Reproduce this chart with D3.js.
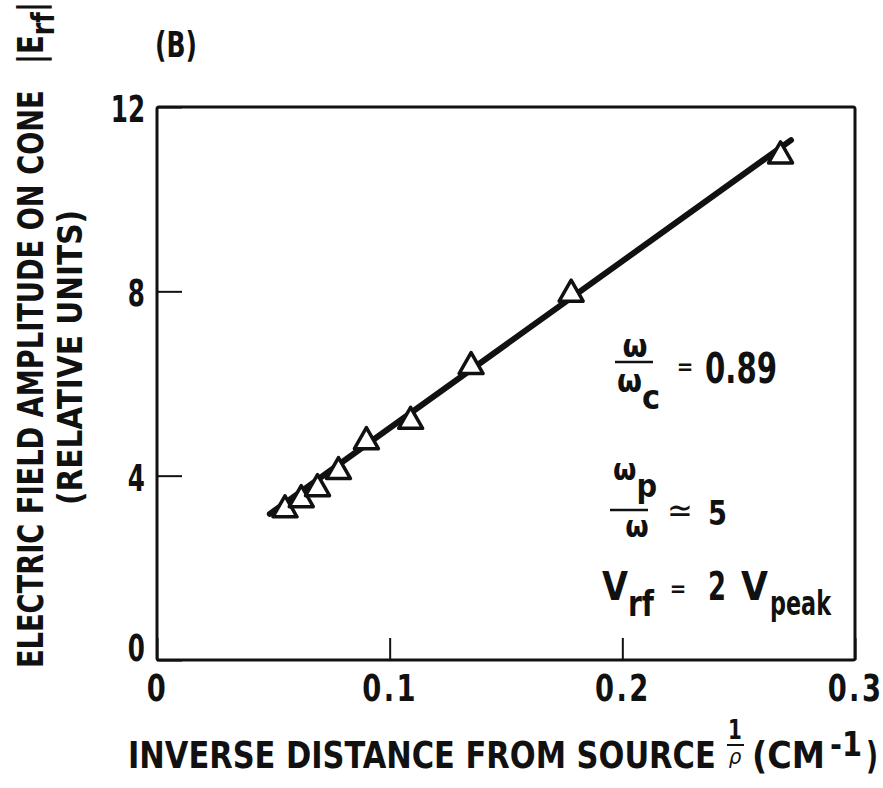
<!DOCTYPE html>
<html>
<head>
<meta charset="utf-8">
<script src="https://cdn.jsdelivr.net/npm/d3@7"></script>
<style>
  html, body { margin: 0; padding: 0; background: #fff; }
  svg { display: block; }
  text { fill: #111; }
</style>
</head>
<body>
<svg id="chart" width="883" height="788"></svg>
<script>
// ---------- data ----------
const xValues = [0.055, 0.062, 0.069, 0.078, 0.090, 0.109, 0.135, 0.178, 0.268];
const yValues = [3.28, 3.50, 3.74, 4.11, 4.76, 5.20, 6.39, 7.96, 10.96];
const fitX = [0.0485, 0.2725];
const fitY = [3.17, 11.28];
const xTicks = [0, 0.1, 0.2, 0.3];
const xTickLabels = ["0", "0.1", "0.2", "0.3"];
const yTicks = [0, 4, 8, 12];
const yTickLabels = ["0", "4", "8", "12"];

// ---------- setup ----------
const FONT = "'Liberation Sans Narrow', 'DejaVu Sans Condensed', 'Arial Narrow', sans-serif";
const svg = d3.select("#chart");
const plot = { left: 157, right: 855, top: 107, bottom: 660 };

const x = d3.scaleLinear().domain([0, 0.3]).range([plot.left, plot.right]);
const y = d3.scaleLinear().domain([0, 12]).range([plot.bottom, plot.top]);

const ink = "#111";

// helper: text squeezed horizontally to a target width (condensed look)
function fitText(parent, opt, build) {
  const g = parent.append("g");
  const t = g.append("text")
    .attr("x", 0).attr("y", 0)
    .attr("text-anchor", opt.anchor || "start")
    .attr("font-family", FONT)
    .attr("font-size", opt.size)
    .attr("font-weight", opt.weight || "bold");
  if (opt.style) t.attr("font-style", opt.style);
  if (typeof build === "string") t.text(build); else build(t);
  let sx = opt.scale || 1;
  if (opt.width) {
    const len = t.node().getComputedTextLength();
    if (len > 0) sx = opt.width / len;
  }
  g.attr("transform", `translate(${opt.x},${opt.y}) rotate(${opt.rotate || 0}) scale(${sx},1)`);
  return t;
}

// frame
svg.append("rect")
  .attr("x", plot.left).attr("y", plot.top)
  .attr("width", plot.right - plot.left).attr("height", plot.bottom - plot.top)
  .attr("fill", "none").attr("stroke", ink).attr("stroke-width", 3).attr("rx", 2);

// x axis
const xAxis = svg.append("g")
  .attr("transform", `translate(0,${plot.bottom})`)
  .call(d3.axisBottom(x).tickValues(xTicks)
    .tickFormat((d, i) => xTickLabels[i])
    .tickSize(-22).tickPadding(14));
xAxis.select(".domain").remove();
xAxis.selectAll(".tick line").attr("stroke", ink).attr("stroke-width", 2);
xAxis.selectAll(".tick text")
  .attr("font-family", FONT).attr("font-size", 38).attr("font-weight", "bold")
  .attr("letter-spacing", 3).attr("fill", ink)
  .attr("transform", "scale(0.8,1)");

// y axis
const ySX = 0.72;
const yAxis = svg.append("g")
  .attr("transform", `translate(${plot.left},0)`)
  .call(d3.axisLeft(y).tickValues(yTicks)
    .tickFormat((d, i) => yTickLabels[i])
    .tickSize(-25).tickPadding(12));
yAxis.select(".domain").remove();
yAxis.selectAll(".tick line").attr("stroke", ink).attr("stroke-width", 2);
yAxis.selectAll(".tick text")
  .attr("font-family", FONT).attr("font-size", 38).attr("font-weight", "bold")
  .attr("fill", ink)
  .attr("x", -12 / ySX)
  .attr("transform", `scale(${ySX},1)`)
  .attr("dy", d => d === 0 ? "0.0em" : "0.38em");

// fit line
const line = d3.line().x(d => x(d[0])).y(d => y(d[1]));
svg.append("path")
  .datum(fitX.map((v, i) => [v, fitY[i]]))
  .attr("d", line)
  .attr("fill", "none").attr("stroke", ink)
  .attr("stroke-width", 6).attr("stroke-linecap", "round");

// triangle markers
const tri = "M0,-13 L12,8 L-12,8 Z";
svg.append("g").selectAll("path")
  .data(xValues.map((v, i) => [v, yValues[i]]))
  .join("path")
  .attr("transform", d => `translate(${x(d[0])},${y(d[1])})`)
  .attr("d", tri)
  .attr("fill", "#fff").attr("stroke", ink)
  .attr("stroke-width", 3.5).attr("stroke-linejoin", "round");

// panel label
fitText(svg, { x: 155, y: 57, size: 36, width: 42 }, "(B)");

// y title (rotated)
fitText(svg, { x: 43, y: 668, rotate: -90, size: 35, width: 578 },
  "ELECTRIC FIELD AMPLITUDE ON CONE");
fitText(svg, { x: 43, y: 64, rotate: -90, size: 35, width: 62 }, t => {
  t.append("tspan").text("|E");
  t.append("tspan").attr("dy", 11).attr("font-size", 32).text("rf");
  t.append("tspan").attr("dy", -11).text("|");
});
fitText(svg, { x: 82, y: 505, rotate: -90, size: 34, width: 295 }, "(RELATIVE UNITS)");

// x title
fitText(svg, { x: 128, y: 768, size: 37, width: 588 }, "INVERSE DISTANCE FROM SOURCE");
fitText(svg, { x: 735, y: 739, size: 26, anchor: "middle", scale: 0.85 }, "1");
svg.append("line").attr("x1", 727).attr("x2", 744).attr("y1", 745).attr("y2", 745)
  .attr("stroke", ink).attr("stroke-width", 2);
fitText(svg, { x: 735, y: 764, size: 22, anchor: "middle", weight: "normal", style: "italic" }, "ρ");
fitText(svg, { x: 752, y: 768, size: 37, width: 73 }, "(CM");
fitText(svg, { x: 830, y: 756, size: 34, width: 32 }, "-1");
fitText(svg, { x: 866, y: 768, size: 37, width: 12 }, ")");

// annotations
// omega / omega_c = 0.89
fitText(svg, { x: 635, y: 357, size: 32, anchor: "middle" }, "ω");
svg.append("line").attr("x1", 615).attr("x2", 653).attr("y1", 362).attr("y2", 362)
  .attr("stroke", ink).attr("stroke-width", 2.5);
fitText(svg, { x: 617, y: 392, size: 32 }, t => {
  t.append("tspan").text("ω");
  t.append("tspan").attr("dy", 17).attr("font-size", 34).text("c");
});
fitText(svg, { x: 685, y: 374, size: 22, anchor: "middle" }, "=");
fitText(svg, { x: 705, y: 383, size: 42, width: 72 }, "0.89");

// omega_p / omega ≃ 5
fitText(svg, { x: 613, y: 480, size: 30 }, t => {
  t.append("tspan").text("ω");
  t.append("tspan").attr("dy", 17).attr("font-size", 32).text("p");
});
svg.append("line").attr("x1", 610).attr("x2", 648).attr("y1", 510).attr("y2", 510)
  .attr("stroke", ink).attr("stroke-width", 2.5);
fitText(svg, { x: 637, y: 537, size: 30, anchor: "middle" }, "ω");
fitText(svg, { x: 680, y: 522, size: 34, anchor: "middle", weight: "normal" }, "≃");
fitText(svg, { x: 708, y: 525, size: 34, width: 19 }, "5");

// V_rf = 2 V_peak
fitText(svg, { x: 602, y: 600, size: 39, width: 26 }, "V");
fitText(svg, { x: 628, y: 616, size: 35, width: 26 }, "rf");
fitText(svg, { x: 678, y: 596, size: 22, anchor: "middle" }, "=");
fitText(svg, { x: 708, y: 600, size: 39, width: 18 }, "2");
fitText(svg, { x: 741, y: 600, size: 39, width: 27 }, "V");
fitText(svg, { x: 770, y: 615, size: 34, width: 61 }, "peak");
</script>
</body>
</html>
